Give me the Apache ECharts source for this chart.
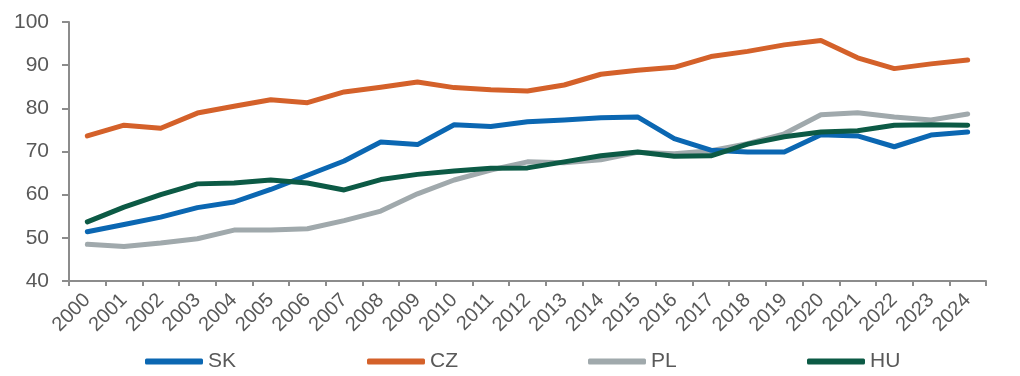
<!DOCTYPE html>
<html>
<head>
<meta charset="utf-8">
<script src="https://cdn.jsdelivr.net/npm/echarts@6/dist/echarts.min.js"></script>
<style>
  html, body { margin: 0; padding: 0; background: #fff; }
  #main { width: 1020px; height: 376px; }
</style>
</head>
<body>
<div id="main"></div>
<script>
var years = ['2000', '2001', '2002', '2003', '2004', '2005', '2006', '2007', '2008', '2009',
    '2010', '2011', '2012', '2013', '2014', '2015', '2016', '2017', '2018', '2019',
    '2020', '2021', '2022', '2023', '2024'];
var sk = [51.4, 53.1, 54.8, 57.0, 58.3, 61.2, 64.5, 67.8, 72.2, 71.6,
    76.2, 75.8, 76.9, 77.3, 77.8, 78.0, 73.0, 70.3, 69.9, 69.9,
    73.9, 73.6, 71.1, 73.8, 74.5];
var cz = [73.6, 76.1, 75.4, 78.9, 80.5, 82.0, 81.3, 83.8, 84.9, 86.1,
    84.8, 84.3, 84.0, 85.4, 87.9, 88.8, 89.5, 92.0, 93.2, 94.7,
    95.7, 91.7, 89.2, 90.3, 91.2];
var pl = [48.5, 48.0, 48.8, 49.8, 51.8, 51.8, 52.1, 54.0, 56.2, 60.2,
    63.4, 65.7, 67.6, 67.4, 68.1, 69.8, 69.5, 70.2, 71.8, 74.1,
    78.5, 79.0, 78.0, 77.3, 78.7];
var hu = [53.7, 57.1, 60.0, 62.5, 62.7, 63.4, 62.7, 61.1, 63.5, 64.7,
    65.5, 66.1, 66.2, 67.6, 69.0, 69.9, 68.9, 69.0, 71.7, 73.4,
    74.5, 74.8, 76.1, 76.2, 76.1];
var yTicks = { min: 40, max: 100, interval: 10 };

var names = ['SK', 'CZ', 'PL', 'HU'];
var colors = ['#0b67b2', '#d4612a', '#a0a9ac', '#0c5a45'];
var values = [sk, cz, pl, hu];
var legendLeft = [140, 362, 583, 802];

var myChart = echarts.init(document.getElementById('main'));

var option = {
    animation: false,
    grid: { left: 69, right: 34, top: 22, bottom: 95 },
    legend: names.map(function (n, i) {
        return {
            data: [n],
            left: legendLeft[i],
            top: 346,
            icon: 'roundRect',
            itemWidth: 58,
            itemHeight: 6,
            itemGap: 2,
            textStyle: { color: '#595959', fontSize: 21, fontFamily: 'Liberation Sans, Arial, sans-serif' }
        };
    }),
    xAxis: {
        type: 'category',
        data: years,
        boundaryGap: true,
        axisLine: { lineStyle: { color: '#8c8c8c', width: 2 } },
        axisTick: { show: true, length: 5, lineStyle: { color: '#8c8c8c', width: 2 } },
        axisLabel: {
            rotate: 45,
            interval: 0,
            color: '#595959',
            fontSize: 20,
            margin: 16,
            fontFamily: 'Liberation Sans, Arial, sans-serif'
        },
        splitLine: { show: false }
    },
    yAxis: {
        type: 'value',
        min: yTicks.min,
        max: yTicks.max,
        interval: yTicks.interval,
        axisLine: { show: true, lineStyle: { color: '#8c8c8c', width: 2 } },
        axisTick: { show: true, length: 7, lineStyle: { color: '#8c8c8c', width: 2 } },
        axisLabel: {
            color: '#595959',
            fontSize: 21,
            margin: 20,
            fontFamily: 'Liberation Sans, Arial, sans-serif'
        },
        splitLine: { show: false }
    },
    series: names.map(function (n, i) {
        return {
            name: n,
            type: 'line',
            data: values[i],
            symbol: 'none',
            z: [2, 1, 0, 3][i],
            itemStyle: { color: colors[i] },
            lineStyle: { color: colors[i], width: 5, cap: 'round', join: 'round' }
        };
    })
};

myChart.setOption(option);
</script>
</body>
</html>
